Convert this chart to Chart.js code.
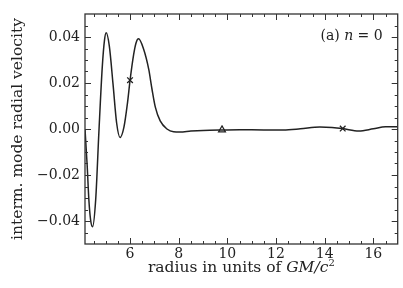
<!DOCTYPE html>
<html>
<head>
<meta charset="utf-8">
<script src="https://cdn.jsdelivr.net/npm/chart.js@4"></script>
<style>
html,body{margin:0;padding:0;background:#fff;}
canvas{display:block;}
</style>
</head>
<body>
<canvas id="c" width="403" height="288"></canvas>
<script>
// Curve (radius, velocity)
const radius = [4.15,4.24,4.31,4.38,4.46,4.59,4.72,4.86,4.95,5.02,5.15,5.3,5.45,5.59,5.75,5.9,6.0,6.15,6.25,6.35,6.55,6.77,6.9,7.04,7.24,7.52,7.79,8.05,8.5,9.0,9.75,10.5,11.5,12.3,13.0,13.8,14.3,14.74,15.4,16.0,16.5,17.0];
const velocity = [0.0,-0.016,-0.031,-0.0395,-0.0425,-0.0306,-0.0015,0.027,0.0385,0.0418,0.036,0.0197,0.0026,-0.0037,0.0008,0.0117,0.0210,0.0324,0.0375,0.0392,0.0350,0.0259,0.0175,0.0095,0.0035,0.0,-0.0012,-0.0013,-0.0009,-0.0006,-0.0004,-0.0003,-0.0004,-0.0004,0.0001,0.0009,0.0007,0.0002,-0.0009,0.0001,0.0010,0.0010];
// markers
const crossX = [6.0, 14.74];
const crossY = [0.0212, 0.0002];
const triX = [9.78];
const triY = [-0.0004];
// axes
const xRange = [4.15, 17];
const yRange = [-0.05, 0.05];
const xMajorTicks = [6,8,10,12,14,16];
const yMajorTicks = [-0.04,-0.02,0,0.02,0.04];
const xMinorTicks = []; for (let v = 4.5; v < 17; v += 0.5) xMinorTicks.push(v);
const yMinorTicks = []; for (let i = -9; i <= 9; i++) yMinorTicks.push(i*0.005);

const FONT = "'DejaVu Serif', 'Liberation Serif', serif";
const INK = '#222';

const ticksPlugin = {
  id: 'frame',
  afterDraw(chart) {
    const {ctx, chartArea: {left, right, top, bottom}, scales: {x, y}} = chart;
    ctx.save();
    ctx.strokeStyle = '#333';
    ctx.lineWidth = 1.3;
    ctx.strokeRect(left, top, right - left, bottom - top);
    ctx.lineWidth = 1;
    ctx.beginPath();
    const tx = (vals, len) => vals.forEach(v => {
      const p = Math.round(x.getPixelForValue(v)) + 0.5;
      if (p <= left || p >= right) return;
      ctx.moveTo(p, bottom); ctx.lineTo(p, bottom - len);
      ctx.moveTo(p, top); ctx.lineTo(p, top + len);
    });
    const ty = (vals, len) => vals.forEach(v => {
      const p = Math.round(y.getPixelForValue(v)) + 0.5;
      if (p <= top || p >= bottom) return;
      ctx.moveTo(left, p); ctx.lineTo(left + len, p);
      ctx.moveTo(right, p); ctx.lineTo(right - len, p);
    });
    tx(xMajorTicks, 6); tx(xMinorTicks, 3);
    ty(yMajorTicks, 6); ty(yMinorTicks, 3);
    ctx.stroke();

    ctx.fillStyle = INK;
    ctx.textAlign = 'left';
    const drawParts = (parts, cx, cy, align) => {
      let w = 0;
      parts.forEach(p => { ctx.font = p[1]; w += ctx.measureText(p[0]).width; });
      let px = align === 'right' ? cx - w : cx - w / 2;
      parts.forEach(p => {
        ctx.font = p[1];
        ctx.fillText(p[0], px, cy + (p[2] || 0));
        px += ctx.measureText(p[0]).width;
      });
    };
    // panel label "(a) n = 0"
    ctx.textBaseline = 'middle';
    drawParts([['(a) ', '14px ' + FONT], ['n', 'italic 14px ' + FONT], [' = 0', '14px ' + FONT]],
              right - 15, top + 22, 'right');
    // x-axis title
    ctx.textBaseline = 'alphabetic';
    drawParts([['radius in units of ', '15.5px ' + FONT], ['GM/c', 'italic 15.5px ' + FONT], ['2', '10px ' + FONT, -6]],
              (left + right) / 2, 272, 'center');
    ctx.restore();
  }
};

const fmt = v => (Math.abs(v) < 1e-9 ? '0.00' : v.toFixed(2).replace('-', '\u2212'));

new Chart(document.getElementById('c'), {
  type: 'line',
  data: {
    datasets: [
      {
        data: radius.map((r, i) => ({x: r, y: velocity[i]})),
        borderColor: INK, borderWidth: 1.5, pointRadius: 0,
        cubicInterpolationMode: 'monotone', fill: false
      },
      {
        data: crossX.map((r, i) => ({x: r, y: crossY[i]})),
        showLine: false, pointStyle: 'crossRot', pointRadius: 4,
        borderColor: INK, borderWidth: 1.3
      },
      {
        data: triX.map((r, i) => ({x: r, y: triY[i]})),
        showLine: false, pointStyle: 'triangle', pointRadius: 4,
        borderColor: INK, borderWidth: 1.2, backgroundColor: 'rgba(0,0,0,0)'
      }
    ]
  },
  options: {
    responsive: false,
    animation: false,
    devicePixelRatio: 1,
    layout: {padding: {left: 0, right: 5, top: 14, bottom: 0}},
    plugins: {legend: {display: false}, tooltip: {enabled: false}},
    scales: {
      x: {
        type: 'linear', min: xRange[0], max: xRange[1],
        grid: {display: false, drawTicks: false},
        border: {display: false},
        afterBuildTicks: s => { s.ticks = xMajorTicks.map(v => ({value: v})); },
        afterFit: s => { s.height = 44; },
        ticks: {color: INK, font: {family: FONT, size: 14}, padding: 2, maxRotation: 0,
                callback: v => String(v)},
        title: {display: false}
      },
      y: {
        type: 'linear', min: yRange[0], max: yRange[1],
        grid: {display: false, drawTicks: false},
        border: {display: false},
        afterBuildTicks: s => { s.ticks = yMajorTicks.map(v => ({value: v})); },
        afterFit: s => { s.width = 85; },
        ticks: {color: INK, font: {family: FONT, size: 14}, padding: 5, callback: fmt},
        title: {display: true, text: 'interm. mode radial velocity', color: INK,
                font: {family: FONT, size: 15.5}, padding: {top: 9, bottom: 0}}
      }
    }
  },
  plugins: [ticksPlugin]
});
</script>
</body>
</html>
